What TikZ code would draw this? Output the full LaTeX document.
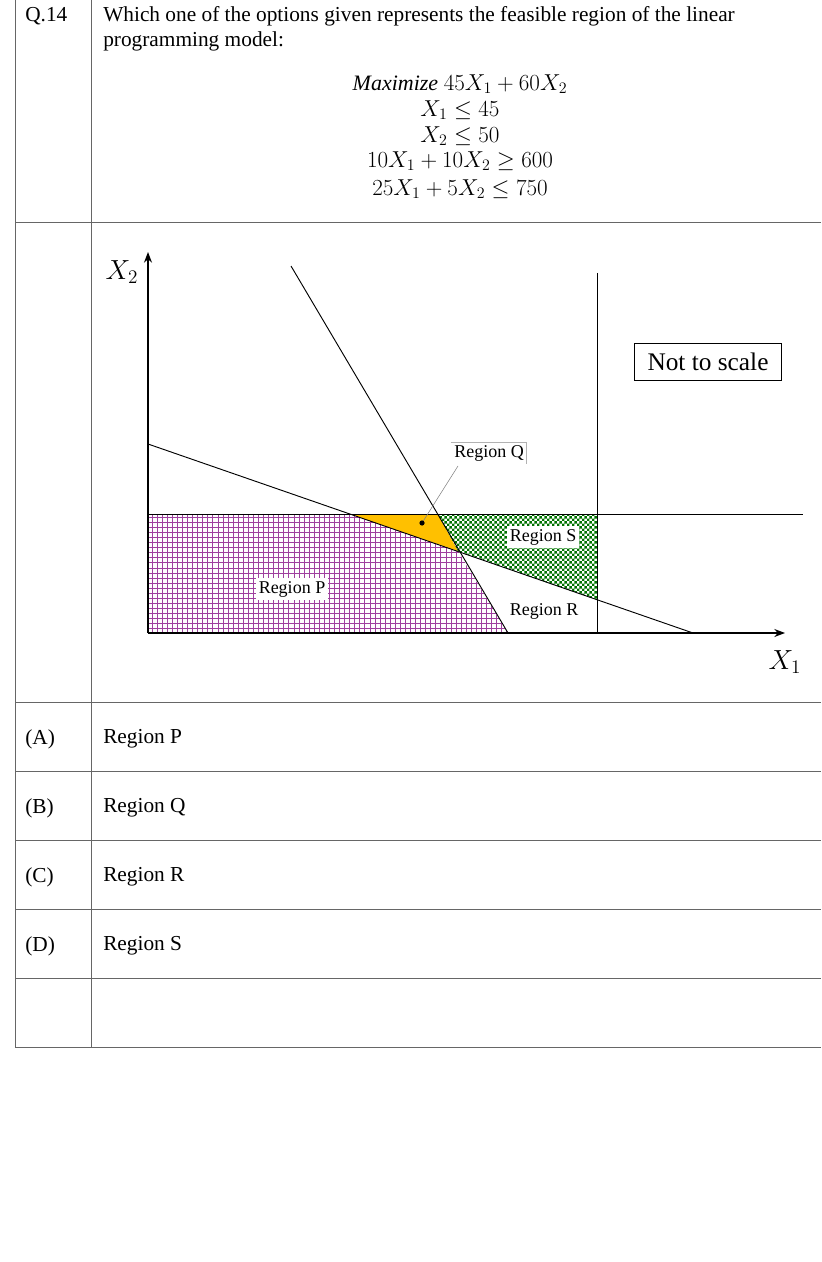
\documentclass[tikz,border=0pt]{standalone}
\usepackage{fontspec}
\setmainfont{Liberation Serif}
\usetikzlibrary{patterns,arrows.meta}
\pgfdeclarepatternformonly{finechecker}{\pgfqpoint{0pt}{0pt}}{\pgfqpoint{4pt}{4pt}}{\pgfqpoint{4pt}{4pt}}{%
  \pgfpathrectangle{\pgfqpoint{0pt}{0pt}}{\pgfqpoint{2pt}{2pt}}%
  \pgfpathrectangle{\pgfqpoint{2pt}{2pt}}{\pgfqpoint{2pt}{2pt}}%
  \pgfusepath{fill}}
\pgfdeclarepatternformonly{finegrid}{\pgfqpoint{-1pt}{-1pt}}{\pgfqpoint{4pt}{4pt}}{\pgfqpoint{3.8pt}{3.8pt}}{%
  \pgfsetlinewidth{0.5pt}%
  \pgfpathmoveto{\pgfqpoint{0pt}{0pt}}\pgfpathlineto{\pgfqpoint{0pt}{3.9pt}}%
  \pgfpathmoveto{\pgfqpoint{0pt}{0pt}}\pgfpathlineto{\pgfqpoint{3.9pt}{0pt}}%
  \pgfusepath{stroke}}
\begin{document}
\begin{tikzpicture}[x=0.75pt,y=-0.75pt,
  rule/.style={draw=black!60,line width=0.6pt},
  ln/.style={draw=black,line width=0.7pt},
  txt/.style={font=\fontsize{16}{19}\selectfont,anchor=west,inner sep=0},
  lab/.style={font=\fontsize{13.5}{15}\selectfont,fill=white,inner sep=2pt},
  eq/.style={font=\fontsize{16.5}{19}\selectfont,inner sep=0}]
\useasboundingbox (0,0) rectangle (821,1262);
% table
\draw[rule] (15,0) -- (15,1047);
\draw[rule] (91,0) -- (91,1047);
\foreach \y in {222,702,771,840,909,978,1047} \draw[rule] (15,\y) -- (821,\y);
\node[txt] (q) at (25,16) {Q.14};
\node[txt] (t1) at (103,16) {Which one of the options given represents the feasible region of the linear};
\node[txt] (t2) at (103,41) {programming model:};
\node[eq] (e1) at (460,84) {$\mathit{Maximize}\ 45X_1+60X_2$};
\node[eq] (e2) at (460,110) {$X_1\le 45$};
\node[eq] (e3) at (460,136) {$X_2\le 50$};
\node[eq] (e4) at (460,161) {$10X_1+10X_2\ge 600$};
\node[eq] (e5) at (460,189) {$25X_1+5X_2\le 750$};
% regions
\fill[pattern=finegrid,pattern color=violet!75] (148,514) -- (350,514) -- (458,551) -- (508,633) -- (148,633) -- cycle;
\fill[fill={rgb,255:red,255;green,192;blue,0}] (350,514) -- (437.6,514) -- (458,551) -- cycle;
\fill[pattern=finechecker,pattern color=green!45!black] (437.6,514) -- (597,514) -- (597,599.7) -- (458,551) -- cycle;
% lines
\draw[ln] (291,266) -- (508,633);
\draw[ln] (148,444) -- (693,633);
\draw[ln] (148,514) -- (803,514);
\draw[ln] (597,273) -- (597,633);
\draw[ln,line width=1pt,-{Stealth[length=8pt,width=6pt]}] (148,633) -- (148,252);
\draw[ln,line width=1pt,-{Stealth[length=8pt,width=6pt]}] (148,633) -- (785,633);
\node[font=\fontsize{20}{22}\selectfont] (x2) at (122,272) {$X_2$};
\node[font=\fontsize{20}{22}\selectfont] (x1) at (785,662) {$X_1$};
% labels
\node[lab] (rp) at (292,589) {Region P};
\node[lab] (rs) at (543,537) {Region S};
\node[lab] (rr) at (544,611) {Region R};
\node[lab] (rq) at (489,453) {Region Q};
\draw[black!30,line width=0.5pt] (rq.north west) -- (rq.north east) -- (rq.south east);
\coordinate (qd) at (422,523);
\draw[black!50,line width=0.4pt] (458,466) -- (qd);
\fill (qd) circle (2.6);
\node[draw=black,line width=0.6pt,font=\fontsize{19}{21}\selectfont,inner sep=4pt,minimum width=110pt,minimum height=28pt] (ns) at (708,362) {Not to scale};
% options
\node[txt] (a) at (25,739) {(A)};
\node[txt] (ra) at (103,739) {Region P};
\node[txt] (b) at (25,808) {(B)};
\node[txt] (rb) at (103,808) {Region Q};
\node[txt] (c) at (25,877) {(C)};
\node[txt] (rc) at (103,877) {Region R};
\node[txt] (d) at (25,946) {(D)};
\node[txt] (rd) at (103,946) {Region S};
\end{tikzpicture}
\end{document}
